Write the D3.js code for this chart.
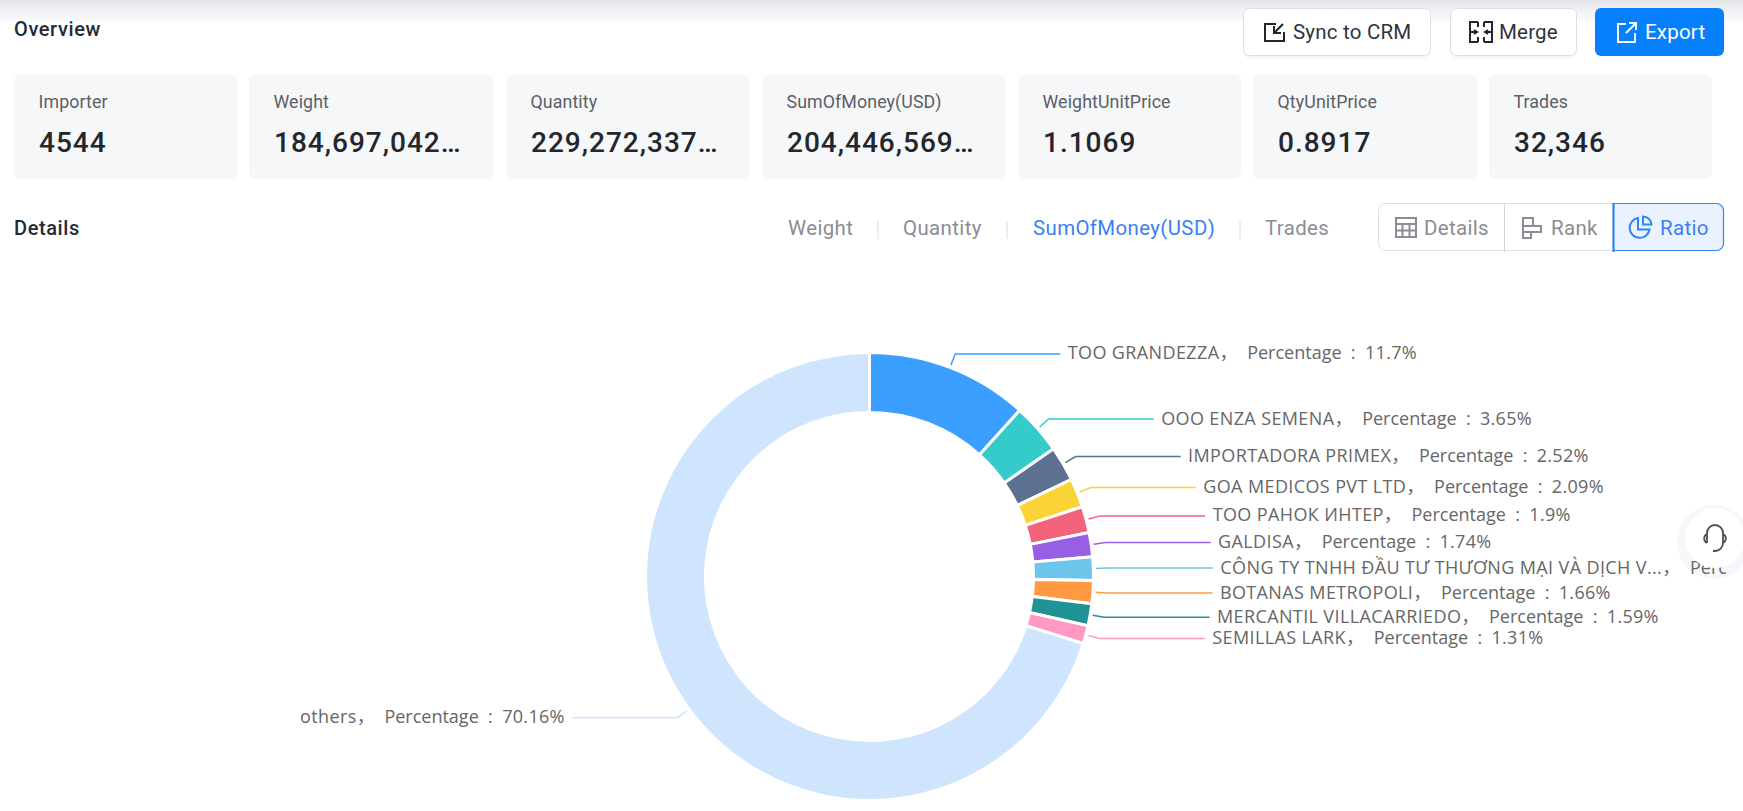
<!DOCTYPE html>
<html>
<head>
    <meta charset="utf-8">
    <title>Overview</title>
    <script src="https://d3js.org/d3.v7.min.js"></script>
    <style>
        html, body { margin: 0; padding: 0; background: #fff; overflow: hidden; }
        svg { display: block; }
        text { white-space: pre; }
    </style>
</head>
<body>
<div id="chartContainer"></div>
<script>
// chart values
var sliceNames = ["TOO GRANDEZZA", "OOO ENZA SEMENA", "IMPORTADORA PRIMEX", "GOA MEDICOS PVT LTD",
    "TOO РАНОК ИНТЕР", "GALDISA", "CÔNG TY TNHH ĐẦU TƯ THƯƠNG MẠI VÀ DỊCH V...", "BOTANAS METROPOLI",
    "MERCANTIL VILLACARRIEDO", "SEMILLAS LARK", "others"];
var slicePercents = [11.7, 3.65, 2.52, 2.09, 1.9, 1.74, 1.68, 1.66, 1.59, 1.31, 70.16];
var sliceColors = ["#3a9fff", "#36cbcb", "#5c7091", "#fad337", "#f2637b", "#975fe4",
    "#6cc6ec", "#ff9a42", "#209494", "#ff99c3", "#cfe5fd"];

// header cards
var cardLabels = ["Importer", "Weight", "Quantity", "SumOfMoney(USD)", "WeightUnitPrice", "QtyUnitPrice", "Trades"];
var cardValues = ["4544", "184,697,042…", "229,272,337…", "204,446,569…", "1.1069", "0.8917", "32,346"];
var cardLefts = [14, 249, 506, 762, 1018, 1253, 1489];
var cardRights = [237, 494, 750, 1006, 1241, 1477, 1712];

var tabLabels = ["Weight", "Quantity", "SumOfMoney(USD)", "Trades"];
var tabLefts = [788, 903, 1033, 1265];
var tabSeps = [878, 1007, 1240];

var uiFont = "Roboto, sans-serif";
var labelFont = "'Open Sans', 'Noto Sans CJK SC', sans-serif";

var svg = d3.select("#chartContainer").append("svg")
    .attr("width", 1743)
    .attr("height", 811);

var defs = svg.append("defs");
var grad = defs.append("linearGradient").attr("id", "topFade").attr("x1", 0).attr("x2", 0).attr("y1", 0).attr("y2", 1);
grad.append("stop").attr("offset", "0%").attr("stop-color", "#e2e3e6");
grad.append("stop").attr("offset", "55%").attr("stop-color", "#f3f4f6");
grad.append("stop").attr("offset", "100%").attr("stop-color", "#f8f9fa");
defs.append("clipPath").attr("id", "chartClip").append("rect")
    .attr("x", 0).attr("y", 240).attr("width", 1726).attr("height", 571);

svg.append("rect").attr("width", 1743).attr("height", 21).attr("fill", "url(#topFade)");

function addText(g, x, y, str, size, weight, color, spacing) {
    return g.append("text")
        .attr("x", x).attr("y", y)
        .attr("font-family", uiFont)
        .attr("font-size", size)
        .attr("font-weight", weight)
        .attr("letter-spacing", spacing || 0)
        .attr("fill", color)
        .text(str);
}

function addIcon(g, d, color, width) {
    return g.append("path").attr("d", d)
        .attr("fill", "none")
        .attr("stroke", color)
        .attr("stroke-width", width || 2);
}

// overview section
var page = svg.append("g");
addText(page, 14, 36, "Overview", 20, 500, "#262b33", 0.6);
addText(page, 14, 235, "Details", 20, 500, "#262b33", 0.6);

cardLabels.forEach(function (label, i) {
    page.append("rect")
        .attr("x", cardLefts[i]).attr("y", 74)
        .attr("width", cardRights[i] - cardLefts[i]).attr("height", 105)
        .attr("rx", 7)
        .attr("fill", "#f6f7f9");
    addText(page, cardLefts[i] + 24.5, 108, label, 17.8, 400, "#5c5f66", 0.1);
    addText(page, cardLefts[i] + 25, 152, cardValues[i], 28, 500, "#23262b", 1);
});

// top buttons
function button(x0, x1, fill, stroke) {
    page.append("rect")
        .attr("x", x0 + 1).attr("y", 12)
        .attr("width", x1 - x0 - 2).attr("height", 47)
        .attr("rx", 6)
        .attr("fill", "#f7f8f9");
    page.append("rect")
        .attr("x", x0 + 0.5).attr("y", 8.5)
        .attr("width", x1 - x0 - 1).attr("height", 47)
        .attr("rx", 6)
        .attr("fill", fill)
        .attr("stroke", stroke);
}
button(1243, 1431, "#fff", "#dcdee2");
button(1450, 1577, "#fff", "#dcdee2");
page.append("rect").attr("x", 1595).attr("y", 8).attr("width", 129).attr("height", 48)
    .attr("rx", 6).attr("fill", "#0781fb");
addText(page, 1293, 39, "Sync to CRM", 20.5, 400, "#30343b", 0.2);
addText(page, 1499, 39, "Merge", 20.5, 400, "#30343b", 0.2);
addText(page, 1645, 39, "Export", 20.5, 400, "#fff", 0.2);
addIcon(page, "M1276 24H1265V41H1284V32M1283 24L1274 33M1274 26V33H1281", "#23262b");
addIcon(page, "M1478 22H1470V42H1478M1478 22V27M1478 37V42M1484 22H1492V42H1484M1484 22V27M1484 37V42M1470 32H1477M1492 32H1485M1474 30l3 2l-3 2M1488 30l-3 2l3 2", "#23262b");
addIcon(page, "M1626 24H1618V42H1635V33M1636 23L1626 33M1629 23H1636V30", "#fff");

// metric tabs
tabLabels.forEach(function (label, i) {
    addText(page, tabLefts[i], 235, label, 20.4, 400, i === 2 ? "#3a7ff6" : "#8a8d93", 0.4);
});
tabSeps.forEach(function (x) {
    page.append("line").attr("x1", x).attr("x2", x).attr("y1", 221).attr("y2", 239).attr("stroke", "#d9dadd");
});

// view switch
page.append("rect").attr("x", 1378.5).attr("y", 203.5).attr("width", 345).attr("height", 47)
    .attr("rx", 7).attr("fill", "#fff").attr("stroke", "#dcdee2");
page.append("line").attr("x1", 1504.5).attr("x2", 1504.5).attr("y1", 203).attr("y2", 252).attr("stroke", "#d4d6da");
page.append("path")
    .attr("d", "M1613.5 203.5H1716.5a7 7 0 0 1 7 7V243.5a7 7 0 0 1 -7 7H1613.5Z")
    .attr("fill", "#eaf2ff").attr("stroke", "#2f86f6").attr("stroke-width", 1.2);
page.append("line").attr("x1", 1613.5).attr("x2", 1613.5).attr("y1", 203).attr("y2", 252)
    .attr("stroke", "#1f7ef5").attr("stroke-width", 2);
addText(page, 1424, 235, "Details", 20.5, 400, "#8a8d93", 0.3);
addText(page, 1551, 235, "Rank", 20.5, 400, "#8a8d93", 0.3);
addText(page, 1660, 235, "Ratio", 20.5, 400, "#3a7ff6", 0.3);
addIcon(page, "M1396 218H1416V237H1396ZM1396 224H1416M1396 230.5H1416M1402.5 224V237M1409.5 224V237", "#8a8d93");
addIcon(page, "M1523 218H1533V226H1523ZM1523 226H1541V232H1523ZM1523 232H1531V238H1523Z", "#8a8d93");
addIcon(page, "M1638 218a10 10 0 1 0 11.5 11.5H1638ZM1643 216.5V224.5H1651.5a8.5 8.5 0 0 0 -8.5 -8Z", "#2f86f6");

// help button shadow sits under the labels, its white disc over them
svg.append("circle").attr("cx", 1714).attr("cy", 542).attr("r", 37).attr("fill", "#f5f7fa");

// donut
var cx = 869.5, cy = 576.5;
var outerR = 224, innerR = 164, startR = 226.5, elbowR = 238.5;
var legLength = 105, textGap = 7.5;

var slices = sliceNames.map(function (name, i) {
    return { name: name, value: slicePercents[i], color: sliceColors[i] };
});
var pie = d3.pie().sort(null).value(function (d) { return d.value; });
var arc = d3.arc().innerRadius(innerR).outerRadius(outerR);
var arcs = pie(slices);

var chart = svg.append("g").attr("clip-path", "url(#chartClip)")
    .append("g").attr("transform", "translate(" + cx + "," + cy + ")");

chart.selectAll("path.slice")
    .data(arcs)
    .enter().append("path")
    .attr("class", "slice")
    .attr("d", arc)
    .attr("fill", function (d) { return d.data.color; })
    .attr("stroke", "#fff")
    .attr("stroke-width", 3);

// leader line: radial stub, then a flat leg towards the label
function leader(d) {
    var a = (d.startAngle + d.endAngle) / 2;
    var side = Math.sin(a) >= 0 ? 1 : -1;
    var ex = elbowR * Math.sin(a), ey = -elbowR * Math.cos(a);
    return {
        side: side,
        points: [[startR * Math.sin(a), -startR * Math.cos(a)], [ex, ey], [ex + side * legLength, ey]]
    };
}

chart.selectAll("path.leader")
    .data(arcs)
    .enter().append("path")
    .attr("class", "leader")
    .attr("d", function (d) { return d3.line()(leader(d).points); })
    .attr("fill", "none")
    .attr("stroke", function (d) { return d.data.color; })
    .attr("stroke-width", 1.5);

var labels = chart.selectAll("text.label")
    .data(arcs)
    .enter().append("text")
    .attr("class", "label")
    .attr("x", function (d) {
        var l = leader(d);
        return l.points[2][0] + l.side * textGap;
    })
    .attr("y", function (d) { return leader(d).points[2][1] + 5.5; })
    .attr("text-anchor", function (d) { return leader(d).side > 0 ? "start" : "end"; })
    .attr("font-family", labelFont)
    .attr("font-size", 18)
    .attr("fill", "#666");

labels.append("tspan")
    .attr("letter-spacing", 0.38)
    .text(function (d) { return d.data.name + "，"; });
labels.append("tspan")
    .text("  Percentage  :  ");
labels.append("tspan")
    .attr("letter-spacing", 0.3)
    .text(function (d) { return d.data.value + "%"; });

// help button
var help = svg.append("g").attr("transform", "translate(1715,538)");
help.append("circle").attr("r", 30).attr("fill", "#fff");
addIcon(help, "M-8 5V-5a8 8 0 0 1 16 0V5a8 8 0 0 1 -8 8h-2M-8 -4a5 5 0 0 0 0 9M8 -4a5 5 0 0 1 0 9", "#4a4d52", 1.8);
</script>
</body>
</html>
